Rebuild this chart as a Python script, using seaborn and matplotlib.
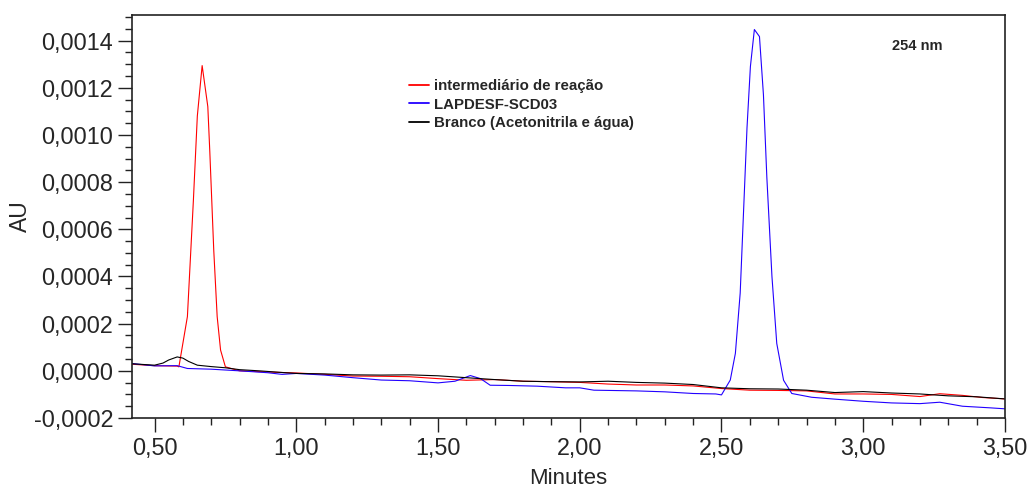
import numpy as np
import pandas as pd
import matplotlib
matplotlib.use("Agg")
import matplotlib.pyplot as plt
from matplotlib.ticker import MultipleLocator, FuncFormatter
import seaborn as sns

# retention time (min) and absorbance (x 1e-4 AU)
t_red = [0.42, 0.50, 0.58, 0.586, 0.616, 0.637, 0.651, 0.668, 0.688, 0.695, 0.709, 0.721,
         0.733, 0.75, 0.80, 0.90, 1.00, 1.10, 1.20, 1.30, 1.40, 1.50, 1.60, 1.70, 1.80,
         1.90, 2.00, 2.10, 2.20, 2.30, 2.40, 2.50, 2.60, 2.70, 2.80, 2.90, 3.00, 3.10,
         3.20, 3.27, 3.35, 3.42, 3.50]
v_red = [0.28, 0.22, 0.20, 0.17, 2.3, 7.2, 10.8, 12.94, 11.2, 9.3, 5.1, 2.3,
         0.88, 0.17, 0.00, -0.05, -0.09, -0.15, -0.22, -0.23, -0.25, -0.33, -0.40, -0.37, -0.44,
         -0.46, -0.49, -0.56, -0.60, -0.60, -0.64, -0.75, -0.82, -0.83, -0.85, -0.98, -0.98, -1.00,
         -1.09, -0.97, -1.04, -1.13, -1.19]

t_blue = [0.42, 0.50, 0.58, 0.616, 0.70, 0.80, 0.90, 0.95, 1.00, 1.10, 1.20, 1.30, 1.40,
          1.50, 1.56, 1.614, 1.65, 1.684, 1.75, 1.85, 1.95, 2.00, 2.05, 2.10, 2.20, 2.30,
          2.40, 2.48, 2.50, 2.531, 2.549, 2.566, 2.578, 2.590, 2.602, 2.616, 2.634, 2.648,
          2.66, 2.678, 2.695, 2.719, 2.748, 2.818, 2.90, 3.00, 3.10, 3.20, 3.27, 3.35,
          3.45, 3.50]
v_blue = [0.31, 0.21, 0.22, 0.10, 0.07, 0.00, -0.08, -0.15, -0.11, -0.18, -0.29, -0.39, -0.42,
          -0.51, -0.44, -0.20, -0.33, -0.61, -0.62, -0.65, -0.72, -0.72, -0.82, -0.83, -0.85, -0.89,
          -0.96, -0.98, -1.02, -0.39, 0.74, 3.3, 6.8, 10.3, 12.9, 14.47, 14.17, 11.7,
          8.2, 4.0, 1.16, -0.40, -0.96, -1.12, -1.20, -1.29, -1.36, -1.39, -1.33, -1.50,
          -1.57, -1.61]

t_black = [0.42, 0.50, 0.53, 0.55, 0.58, 0.60, 0.62, 0.651, 0.70, 0.75, 0.80, 0.87, 0.95,
           1.00, 1.10, 1.20, 1.30, 1.40, 1.50, 1.60, 1.70, 1.80, 1.90, 2.00, 2.10, 2.20,
           2.30, 2.40, 2.50, 2.60, 2.70, 2.80, 2.90, 3.00, 3.10, 3.20, 3.30, 3.40, 3.50]
v_black = [0.30, 0.24, 0.33, 0.46, 0.59, 0.54, 0.40, 0.24, 0.18, 0.13, 0.05, 0.00, -0.07,
           -0.11, -0.13, -0.17, -0.18, -0.17, -0.21, -0.29, -0.37, -0.44, -0.46, -0.47, -0.44, -0.49,
           -0.52, -0.58, -0.72, -0.76, -0.77, -0.82, -0.92, -0.88, -0.94, -0.98, -1.06, -1.10, -1.19]

labels = ["intermediário de reação", "LAPDESF-SCD03", "Branco (Acetonitrila e água)"]
colors = ["#ff0000", "#2200ff", "#000000"]

sns.set_style("ticks")
plt.rcParams["font.family"] = ["Liberation Sans", "DejaVu Sans"]

fig, ax = plt.subplots(figsize=(10.3, 4.88), dpi=100)
fig.subplots_adjust(left=0.128, right=0.9757, top=0.970, bottom=0.1434)

series = [(t_red, v_red), (t_blue, v_blue), (t_black, v_black)]
for (t, v), lab, col in zip(series, labels, colors):
    df = pd.DataFrame({"Minutes": t, "AU": np.array(v) * 1e-4})
    sns.lineplot(data=df, x="Minutes", y="AU", ax=ax, color=col, lw=0.8,
                 label=lab, sort=False)

ax.set_xlim(0.42, 3.5)
ax.set_ylim(-0.0002, 0.00151)
ax.xaxis.set_major_locator(MultipleLocator(0.5))
ax.xaxis.set_minor_locator(MultipleLocator(0.1))
ax.yaxis.set_major_locator(MultipleLocator(0.0002))
ax.yaxis.set_minor_locator(MultipleLocator(0.00005))
ax.xaxis.set_major_formatter(FuncFormatter(lambda v, p: f"{v:.2f}".replace(".", ",")))
ax.yaxis.set_major_formatter(FuncFormatter(lambda v, p: f"{v:.4f}".replace(".", ",").replace("-0,0000", "0,0000")))
ax.tick_params(axis="both", which="major", length=10, width=1, labelsize=16.8, color="#222222")
ax.tick_params(axis="both", which="minor", length=5, width=1, color="#222222")
for s in ax.spines.values():
    s.set_color("#222222")
    s.set_linewidth(1.2)

ax.set_xlabel("Minutes", fontsize=16, labelpad=6)
ax.set_ylabel("AU", fontsize=16.5, labelpad=1)

ax.text(0.90, 0.923, "254 nm", transform=ax.transAxes, fontsize=10.5,
        fontweight="bold", ha="center", va="center")

leg = ax.legend(loc="upper left", bbox_to_anchor=(0.318, 0.84), frameon=False,
                borderpad=0, borderaxespad=0, handlelength=1.3, handletextpad=0.35,
                labelspacing=0.3, prop={"size": 10.8, "weight": "bold"})
for h in leg.get_lines():
    h.set_linewidth(1.3)

plt.savefig("out.png", dpi=100)
